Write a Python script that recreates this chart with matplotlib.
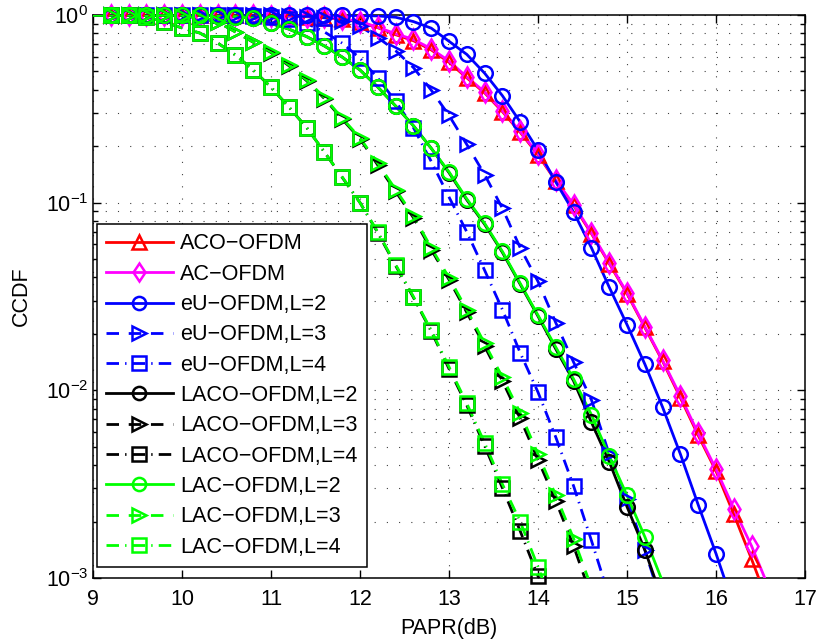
import numpy as np
import matplotlib
matplotlib.use('Agg')
import matplotlib.pyplot as plt
from matplotlib.lines import Line2D

plt.rcParams['font.family'] = ['Liberation Sans', 'DejaVu Sans']
plt.rcParams['mathtext.default'] = 'regular'

# PAPR grid (dB), one point every 0.2 dB starting at 9.0
papr = np.round(np.arange(9.0, 16.61, 0.2), 1)

# log10(CCDF), one value per PAPR point
aco_ofdm = [0, 0, 0, 0, 0, 0, 0, -0.001, -0.001, -0.002, -0.004,
            -0.006, -0.009, -0.014, -0.022, -0.038, -0.068, -0.105, -0.137, -0.186, -0.252,
            -0.335, -0.415, -0.515, -0.625, -0.745, -0.885, -1.015, -1.165, -1.325, -1.485,
            -1.665, -1.845, -2.04, -2.24, -2.43, -2.66, -2.90, -3.15]
ac_ofdm = [0, 0, 0, 0, 0, 0, 0, -0.001, -0.001, -0.002, -0.003,
           -0.005, -0.008, -0.012, -0.02, -0.035, -0.065, -0.10, -0.13, -0.18, -0.245,
           -0.33, -0.41, -0.51, -0.62, -0.74, -0.88, -1.01, -1.16, -1.32, -1.48,
           -1.66, -1.84, -2.03, -2.23, -2.42, -2.63, -2.83, -3.06]
eu_l2 = [0, 0, 0, 0, 0, 0, 0, 0, 0, 0, 0,
         0, -0.001, -0.001, -0.002, -0.003, -0.005, -0.012, -0.035, -0.07, -0.14,
         -0.21, -0.31, -0.43, -0.57, -0.72, -0.89, -1.05, -1.24, -1.45, -1.65,
         -1.86, -2.09, -2.34, -2.61, -2.87, -3.15]
eu_l3 = [0, 0, 0, 0, 0, 0, 0, 0, 0, -0.001, -0.002,
         -0.004, -0.008, -0.015, -0.03, -0.06, -0.12, -0.19, -0.28, -0.40, -0.535,
         -0.69, -0.85, -1.03, -1.24, -1.42, -1.64, -1.85, -2.05, -2.34, -2.58,
         -2.85, -3.15]
eu_l4 = [0, 0, 0, 0, 0, 0, 0, -0.001, -0.002, -0.005, -0.01,
         -0.02, -0.045, -0.09, -0.15, -0.23, -0.336, -0.46, -0.60, -0.78, -0.97,
         -1.156, -1.36, -1.57, -1.80, -2.01, -2.25, -2.51, -2.80, -3.1]
laco_l2 = [0, 0, 0, 0, 0, 0, -0.001, -0.003, -0.008, -0.016, -0.045,
           -0.075, -0.115, -0.165, -0.224, -0.293, -0.384, -0.485, -0.59, -0.71, -0.84,
           -0.985, -1.115, -1.265, -1.435, -1.605, -1.78, -1.95, -2.17, -2.38, -2.62,
           -2.85, -3.12]
laco_l3 = [0, 0, 0, 0, 0, -0.005, -0.015, -0.037, -0.09, -0.145, -0.2,
           -0.27, -0.35, -0.445, -0.555, -0.66, -0.80, -0.94, -1.08, -1.25, -1.41,
           -1.585, -1.765, -1.95, -2.15, -2.37, -2.59, -2.83, -3.1]
laco_l4 = [0, 0, 0, -0.01, -0.037, -0.069, -0.096, -0.149, -0.213, -0.293,
           -0.385, -0.49, -0.60, -0.73, -0.865, -1.0, -1.16, -1.335, -1.505, -1.685,
           -1.885, -2.08, -2.295, -2.52, -2.75, -2.99, -3.25]
lac_l2 = [0, 0, 0, 0, 0, 0, -0.001, -0.003, -0.008, -0.016, -0.045,
          -0.075, -0.115, -0.165, -0.224, -0.293, -0.384, -0.485, -0.59, -0.71, -0.836,
          -0.98, -1.11, -1.26, -1.43, -1.60, -1.77, -1.94, -2.13, -2.35, -2.56,
          -2.78, -3.02, -3.25]
lac_l3 = [0, 0, 0, 0, 0, -0.005, -0.015, -0.037, -0.09, -0.144, -0.197,
          -0.266, -0.346, -0.44, -0.55, -0.655, -0.79, -0.93, -1.07, -1.24, -1.40,
          -1.57, -1.75, -1.93, -2.12, -2.34, -2.56, -2.79, -3.05]
lac_l4 = [0, 0, 0, -0.01, -0.037, -0.069, -0.096, -0.149, -0.213, -0.293,
          -0.384, -0.49, -0.60, -0.73, -0.863, -1.0, -1.156, -1.33, -1.50, -1.68,
          -1.875, -2.07, -2.28, -2.50, -2.70, -2.94, -3.2]

labels = ['ACO\u2212OFDM', 'AC\u2212OFDM', 'eU\u2212OFDM,L=2', 'eU\u2212OFDM,L=3',
          'eU\u2212OFDM,L=4', 'LACO\u2212OFDM,L=2', 'LACO\u2212OFDM,L=3',
          'LACO\u2212OFDM,L=4', 'LAC\u2212OFDM,L=2', 'LAC\u2212OFDM,L=3',
          'LAC\u2212OFDM,L=4']
series = [aco_ofdm, ac_ofdm, eu_l2, eu_l3, eu_l4, laco_l2, laco_l3, laco_l4,
          lac_l2, lac_l3, lac_l4]

dashed = (0, (4.5, 3.5))
dashdot = (0, (4.5, 2.2, 0.5, 2.2))
styles = [
    ('#ff0000', '-', '^'),
    ('#ff00ff', '-', 'd'),
    ('#0000ff', '-', 'o'),
    ('#0000ff', dashed, '>'),
    ('#0000ff', dashdot, 's'),
    ('#000000', '-', 'o'),
    ('#000000', dashed, '>'),
    ('#000000', dashdot, 's'),
    ('#00ff00', '-', 'o'),
    ('#00ff00', dashed, '>'),
    ('#00ff00', dashdot, 's'),
]

fig = plt.figure(figsize=(8.2, 6.4), dpi=100)
ax = fig.add_axes([93 / 820, 62 / 640, 712 / 820, 563 / 640])

lw = 2.0
ms = 10.5
mew = 1.8
handles = []
for vals, lab, (col, ls, mk) in zip(series, labels, styles):
    x = papr[:len(vals)]
    y = 10.0 ** np.array(vals, dtype=float)
    ax.plot(x, y, color=col, linestyle=ls, linewidth=lw, zorder=3)
    keep = (x > 9.1) & (y >= 0.99e-3)
    ax.plot(x[keep], y[keep], linestyle='none', marker=mk, markersize=ms,
            markerfacecolor='none', markeredgecolor=col, markeredgewidth=mew,
            clip_on=False, zorder=4)
    handles.append(Line2D([], [], color=col, linestyle=ls, linewidth=lw,
                          marker=mk, markersize=9.5, markerfacecolor='none',
                          markeredgecolor=col, markeredgewidth=mew, label=lab))

ax.set_yscale('log')
ax.set_xlim(9, 17)
ax.set_ylim(1e-3, 1)
ax.set_xticks(range(9, 18))
ax.set_xlabel('PAPR(dB)', fontsize=15.5, labelpad=6)
ax.set_ylabel('CCDF', fontsize=15.5, labelpad=10)

ax.tick_params(which='both', direction='in', top=True, right=True, labelsize=15.5)
ax.tick_params(which='major', length=6, width=1)
ax.tick_params(which='minor', length=3.5, width=1)
ax.tick_params(axis='x', pad=8)
for sp in ax.spines.values():
    sp.set_linewidth(1.1)

grid_style = dict(color='k', linestyle=(0, (1, 10)), linewidth=0.8, alpha=0.75)
ax.grid(which='major', **grid_style)
ax.grid(which='minor', axis='y', **grid_style)
ax.set_axisbelow(True)

leg = ax.legend(handles=handles, loc='lower left', bbox_to_anchor=(0.005, 0.02),
                borderaxespad=0, fontsize=15.6, handlelength=3.1,
                handletextpad=0.35, labelspacing=0.43, borderpad=0.42,
                fancybox=False, framealpha=1, edgecolor='k')
leg.get_frame().set_linewidth(1.1)
leg.set_zorder(10)

fig.savefig('out.png', dpi=100)
